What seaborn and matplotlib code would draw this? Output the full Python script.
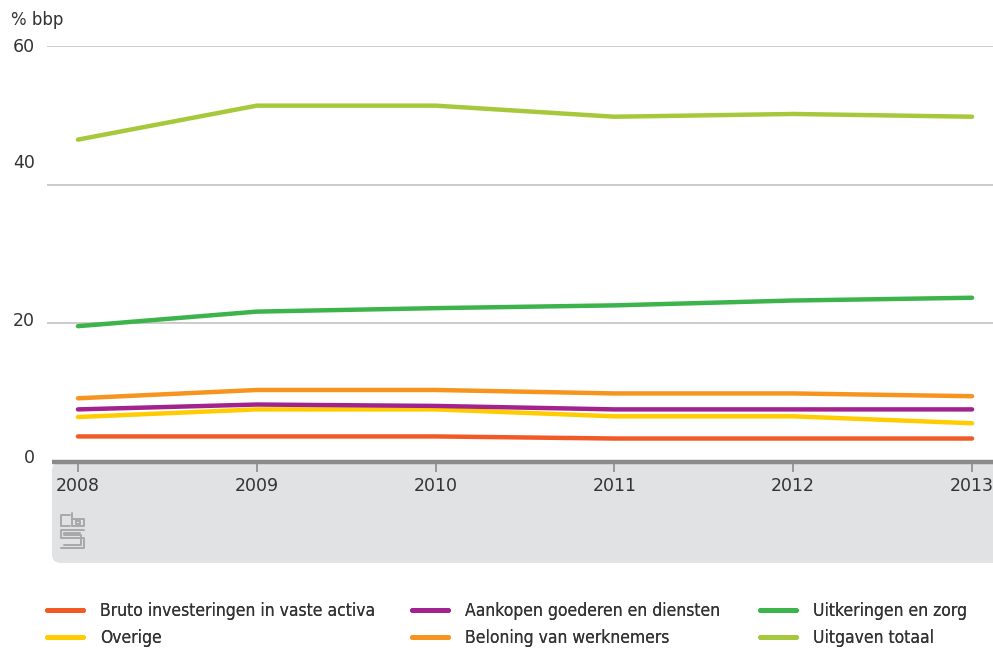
import matplotlib
matplotlib.use("Agg")
import matplotlib.pyplot as plt
import seaborn as sns
import pandas as pd
from matplotlib.patches import FancyBboxPatch
from matplotlib.lines import Line2D
from matplotlib.transforms import ScaledTranslation

years = [2008, 2009, 2010, 2011, 2012, 2013]
bruto = [3.7, 3.7, 3.7, 3.4, 3.4, 3.4]
aankopen = [7.6, 8.3, 8.1, 7.6, 7.6, 7.6]
uitkeringen = [19.6, 21.7, 22.2, 22.6, 23.3, 23.7]
overige = [6.5, 7.6, 7.6, 6.6, 6.6, 5.6]
beloning = [9.2, 10.4, 10.4, 9.9, 9.9, 9.5]
totaal = [46.5, 51.4, 51.4, 49.8, 50.2, 49.8]

series_names = ["Bruto investeringen in vaste activa", "Overige",
                "Aankopen goederen en diensten", "Beloning van werknemers",
                "Uitkeringen en zorg", "Uitgaven totaal"]
series_values = [bruto, overige, aankopen, beloning, uitkeringen, totaal]
colors = ["#f15a24", "#ffcc00", "#a3238e", "#f7941d", "#3cb44b", "#a5c93a"]
yticks = [0, 20, 40, 60]
ylabel = "% bbp"

rows = []
for name, vals in zip(series_names, series_values):
    for y, v in zip(years, vals):
        rows.append({"jaar": y, "waarde": v, "reeks": name})
df = pd.DataFrame(rows)

sns.set_style("white")
plt.rcParams["font.family"] = ["DejaVu Sans"]

W, H = 993, 650
fig = plt.figure(figsize=(W / 100, H / 100), dpi=100)
ax = fig.add_axes([47 / W, (H - 563) / H, 1 - 47 / W, (563 - 46) / H])

ax.set_xlim(2007.827, 2013.117)
ax.set_ylim(-14.55, 60)

# gray panel below zero
px_per_year = (972 - 78) / 5
x_panel = 2008 - (78 - 52) / px_per_year
panel = FancyBboxPatch((x_panel, -14.55), 2014 - x_panel, 14.55,
                       boxstyle="round,pad=0,rounding_size=0.05",
                       mutation_aspect=px_per_year / 6.95,
                       facecolor="#e1e2e4", edgecolor="none", zorder=0)
ax.add_patch(panel)

# gridlines
for t in yticks[1:]:
    ax.axhline(t, color="#bdbdbd", lw=1.1, zorder=1)
ax.plot([x_panel, 2014], [0, 0], color="#8a8a8a", lw=3.2, zorder=4,
        solid_capstyle="butt")

sns.lineplot(data=df, x="jaar", y="waarde", hue="reeks", hue_order=series_names,
             palette=colors, linewidth=3.2, ax=ax, legend=False, zorder=3)

# x ticks on the zero line
ax.spines["bottom"].set_position(("data", 0))
ax.set_xticks(years)
ax.set_xticklabels([str(y) for y in years])
ax.tick_params(axis="x", bottom=True, direction="out", length=7.5, width=1.2,
               color="#8c8c8c", pad=3.5, labelsize=12.5, labelcolor="#333333")
ax.set_yticks([])
ax.set_xlabel("")
ax.set_ylabel("")
for s in ax.spines.values():
    s.set_visible(False)

# y tick labels (positions as in the original)
ylab_offsets_px = {0: 4, 20: 2, 40: 22, 60: -1}
for t in yticks:
    tr = ax.get_yaxis_transform() + ScaledTranslation(
        -12 / 100, ylab_offsets_px[t] / 100, fig.dpi_scale_trans)
    ax.text(0, t, str(t), transform=tr, ha="right", va="center",
            fontsize=12.5, color="#333333")

fig.text(11 / W, 1 - 20 / H, ylabel, fontsize=12, color="#333333", va="center",
         ha="left")

# cbs logo (decorative)
def fpx(xs, ys):
    return [x / W for x in xs], [1 - y / H for y in ys]
logo_col = "#a7a8aa"
segs = [
    ([70, 61, 61, 70], [515, 515, 526, 526]),
    ([72, 72, 84, 84, 72], [513, 526, 526, 519, 519]),
    ([76, 80, 80, 76, 76], [521, 521, 524, 524, 521]),
    ([84, 61, 61, 84, 84, 61], [530, 530, 538, 538, 548, 548]),
    ([80, 64, 64, 81, 81, 64], [533, 533, 535, 535, 545, 545]),
]
for xs, ys in segs:
    fx, fy = fpx(xs, ys)
    fig.add_artist(Line2D(fx, fy, color=logo_col, lw=1.4))

# legend: three columns of two entries
col_x = [47, 412, 760]
for c in range(3):
    idx = [2 * c, 2 * c + 1]
    handles = [Line2D([0], [0], color=colors[i], lw=3.5) for i in idx]
    leg = fig.legend(handles, [series_names[i] for i in idx], loc="upper left",
                     bbox_to_anchor=(col_x[c] / W, 1 - 602 / H), ncol=1,
                     frameon=False, borderpad=0, borderaxespad=0,
                     handlelength=2.1, handletextpad=0.95, labelspacing=0.5,
                     prop={"family": "DejaVu Sans", "stretch": "condensed",
                           "size": 12.5})
    for t in leg.get_texts():
        t.set_color("#333333")
    fig.add_artist(leg)

fig.savefig("out.png", dpi=100)
